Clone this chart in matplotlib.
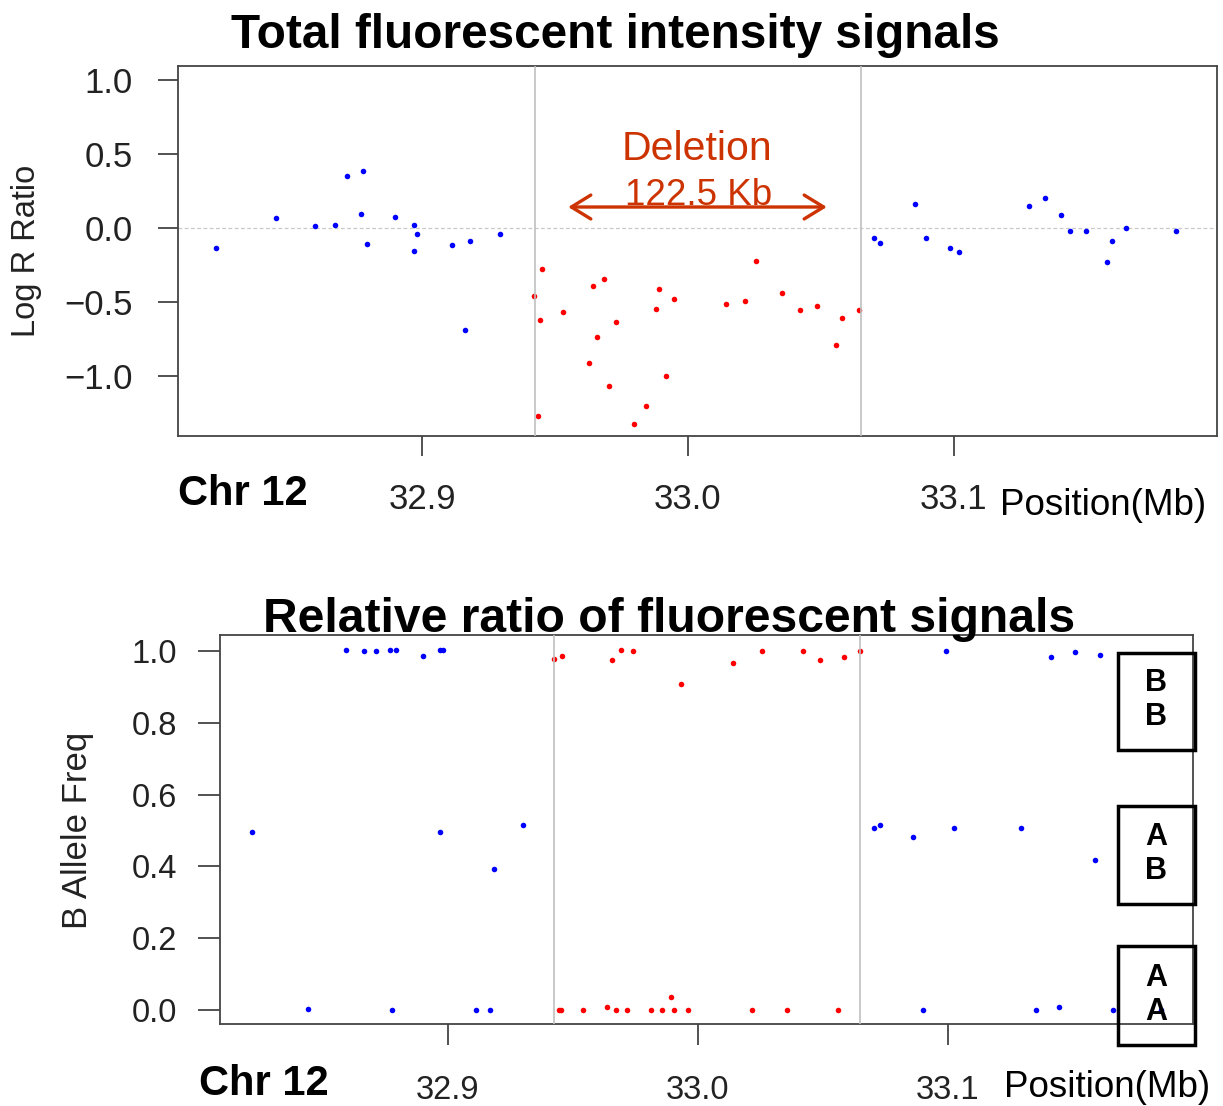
import matplotlib
matplotlib.use('Agg')
import matplotlib.pyplot as plt
from matplotlib.patches import Rectangle
import numpy as np

plt.rcParams['font.family'] = ['Liberation Sans', 'DejaVu Sans']

## ---- data (positions in Mb) ----
## Log R Ratio, SNPs outside the deletion
lrr_pos_normal = [32.8226, 32.8449, 32.8598, 32.8671, 32.8717, 32.8779, 32.8769, 32.8793,
                  32.8900, 32.8970, 32.8980, 32.8971, 32.9111, 32.9163, 32.9182, 32.9295,
                  33.0702, 33.0724, 33.0854, 33.0895, 33.0987, 33.1022, 33.1284, 33.1345,
                  33.1403, 33.1437, 33.1498, 33.1577, 33.1596, 33.1648, 33.1836]
lrr_normal = [-0.136, 0.066, 0.011, 0.018, 0.354, 0.383, 0.095, -0.107,
              0.077, 0.018, -0.039, -0.154, -0.116, -0.692, -0.088, -0.039,
              -0.066, -0.098, 0.161, -0.068, -0.134, -0.163, 0.152, 0.200,
              0.086, -0.020, -0.020, -0.231, -0.088, 0.0, -0.020]
## Log R Ratio, SNPs inside the deletion
lrr_pos_del = [32.9421, 32.9450, 32.9445, 32.9438, 32.9530, 32.9643, 32.9684, 32.9659,
               32.9628, 32.9729, 32.9705, 32.9799, 32.9842, 32.9879, 32.9891, 32.9917,
               32.9947, 33.0143, 33.0217, 33.0255, 33.0354, 33.0421, 33.0485, 33.0559,
               33.0581, 33.0645]
lrr_del = [-0.460, -0.279, -0.624, -1.268, -0.567, -0.395, -0.347, -0.739,
           -0.912, -0.635, -1.066, -1.324, -1.200, -0.549, -0.413, -0.998,
           -0.481, -0.510, -0.490, -0.222, -0.442, -0.556, -0.528, -0.787,
           -0.605, -0.556]

## B allele frequency, SNPs outside the deletion
baf_pos_normal = [32.8216, 32.8442, 32.8593, 32.8666, 32.8714, 32.8767, 32.8791, 32.8776,
                  32.8900, 32.8969, 32.8980, 32.8970, 32.9113, 32.9167, 32.9184, 32.9301,
                  33.0704, 33.0727, 33.0859, 33.0900, 33.0992, 33.1026, 33.1291, 33.1353,
                  33.1412, 33.1446, 33.1509, 33.1588, 33.1608, 33.1660, 33.1853]
baf_normal = [0.495, 0.004, 1.004, 1.0, 1.0, 1.004, 1.004, 0.0,
              0.987, 1.004, 1.004, 0.495, 0.0, 0.0, 0.392, 0.515,
              0.506, 0.514, 0.481, 0.0, 1.0, 0.506, 0.506, 0.0,
              0.983, 0.007, 0.996, 0.419, 0.988, 0.0, 0.0]
## B allele frequency, SNPs inside the deletion
baf_pos_del = [32.9426, 32.9457, 32.9446, 32.9453, 32.9539, 32.9638, 32.9655, 32.9672,
               32.9693, 32.9716, 32.9741, 32.9813, 32.9856, 32.9893, 32.9904, 32.9933,
               32.9962, 33.0141, 33.0217, 33.0255, 33.0355, 33.0422, 33.0487, 33.0559,
               33.0584, 33.0648]
baf_del = [0.979, 0.987, 0.0, 0.0, 0.0, 0.007, 0.975, 0.0,
           1.004, 0.0, 1.0, 0.0, 0.0, 0.036, 0.0, 0.909,
           0.0, 0.967, 0.0, 1.0, 0.0, 1.0, 0.975, 0.0,
           0.983, 1.0]

breakpoints = [32.9425, 33.0650]
x_ticks = [32.9, 33.0, 33.1]
lrr_ticks = [1.0, 0.5, 0.0, -0.5, -1.0]
baf_ticks = [1.0, 0.8, 0.6, 0.4, 0.2, 0.0]
genotype_labels = ['B\nB', 'A\nB', 'A\nA']

## ---- figure layout (pixels of the 1223x1106 image) ----
W, H = 1223, 1106
def fx(px):
    return px / W
def fy(py):
    return 1 - py / H

fig = plt.figure(figsize=(W / 100, H / 100), dpi=100)
ax1 = fig.add_axes([fx(178), fy(436), (1217 - 178) / W, (436 - 66) / H])
ax2 = fig.add_axes([fx(220), fy(1024), (1193 - 220) / W, (1024 - 635) / H])

del_col = '#cc3300'
tick_col = '#222222'
frame_col = '#444444'

def style_axis(ax, xlen, xpad, ylen, ypad, fsize):
    for sp in ax.spines.values():
        sp.set_color(frame_col)
        sp.set_linewidth(1.3)
    ax.tick_params(axis='x', length=xlen, width=1.3, color=frame_col, pad=xpad,
                   labelsize=fsize, labelcolor=tick_col)
    ax.tick_params(axis='y', length=ylen, width=1.3, color=frame_col, pad=ypad,
                   labelsize=fsize, labelcolor=tick_col)
    ax.set_xticks(x_ticks)
    ax.set_xticklabels(['%.1f' % t for t in x_ticks])

## ---- top panel: Log R Ratio ----
ax1.axhline(0, color='#c8c8c8', lw=0.9, ls=(0, (3, 2)), zorder=1)
ax1.plot(lrr_pos_normal, lrr_normal, 'o', color='#0000ff', ms=4, mew=0, zorder=2)
ax1.plot(lrr_pos_del, lrr_del, 'o', color='#ff0000', ms=4, mew=0, zorder=2)
for b in breakpoints:
    ax1.axvline(b, color='#c0c0c0', lw=1.2, zorder=3)
ax1.set_xlim(32.8082, 33.1991)
ax1.set_ylim(-1.405, 1.0946)
ax1.set_yticks(lrr_ticks)
ax1.set_yticklabels(['%.1f' % t if t >= 0 else '\u2212%.1f' % abs(t) for t in lrr_ticks])
style_axis(ax1, 14.4, 19.5, 14.4, 18, 25)

## deletion annotation
ax1.annotate('', xy=(33.0523, 0.142), xytext=(32.9550, 0.142),
             arrowprops=dict(arrowstyle='<->,head_length=0.7,head_width=0.43',
                             color=del_col, lw=2.4, mutation_scale=20,
                             shrinkA=0, shrinkB=0), zorder=5)
ax1.text(33.0035, 0.459, 'Deletion', color=del_col, fontsize=29.5,
         ha='center', va='baseline', zorder=5)
ax1.text(33.0040, 0.155, '122.5 Kb', color=del_col, fontsize=26.5,
         ha='center', va='baseline', zorder=4)

## ---- bottom panel: B Allele Freq ----
ax2.plot(baf_pos_normal, baf_normal, 'o', color='#0000ff', ms=4, mew=0, zorder=2)
ax2.plot(baf_pos_del, baf_del, 'o', color='#ff0000', ms=4, mew=0, zorder=2)
for b in breakpoints:
    ax2.axvline(b, color='#c0c0c0', lw=1.2, zorder=3)
ax2.set_xlim(32.8089, 33.1981)
ax2.set_ylim(-0.039, 1.0446)
ax2.set_yticks(baf_ticks)
ax2.set_yticklabels(['%.1f' % t for t in baf_ticks])
style_axis(ax2, 15, 22, 15.8, 15, 23.5)

## ---- titles and labels ----
fig.text(fx(615), fy(48), 'Total fluorescent intensity signals', fontsize=34.4,
         fontweight='bold', ha='center', va='baseline')
fig.text(fx(669), fy(632), 'Relative ratio of fluorescent signals', fontsize=34.6,
         fontweight='bold', ha='center', va='baseline', zorder=5)

fig.text(fx(27), fy(251), 'Log R Ratio', fontsize=23.5, rotation=90,
         ha='center', va='center', color=tick_col)
fig.text(fx(78), fy(830), 'B Allele Freq', fontsize=25, rotation=90,
         ha='center', va='center', color=tick_col)

fig.text(fx(178), fy(505), 'Chr 12', fontsize=30, fontweight='bold', ha='left', va='baseline')
fig.text(fx(199), fy(1095), 'Chr 12', fontsize=30, fontweight='bold', ha='left', va='baseline')
fig.text(fx(1000), fy(515), 'Position(Mb)', fontsize=26.5, ha='left', va='baseline')
fig.text(fx(1004), fy(1097), 'Position(Mb)', fontsize=26.5, ha='left', va='baseline')

## genotype boxes on the right
box_tops = [653, 806, 946]
box_bots = [750, 904, 1045]
text_mid = [700, 854, 995]
for lab, top, bot, mid in zip(genotype_labels, box_tops, box_bots, text_mid):
    fig.add_artist(Rectangle((fx(1118), fy(bot)), (1195 - 1118) / W, (bot - top) / H,
                             transform=fig.transFigure, fill=False, lw=2.5,
                             ec='black', zorder=4))
    fig.text(fx(1156), fy(mid), lab, fontsize=22, fontweight='bold',
             ha='center', va='center', linespacing=1.2, zorder=5)

plt.savefig('out.png', dpi=100)
plt.close()
